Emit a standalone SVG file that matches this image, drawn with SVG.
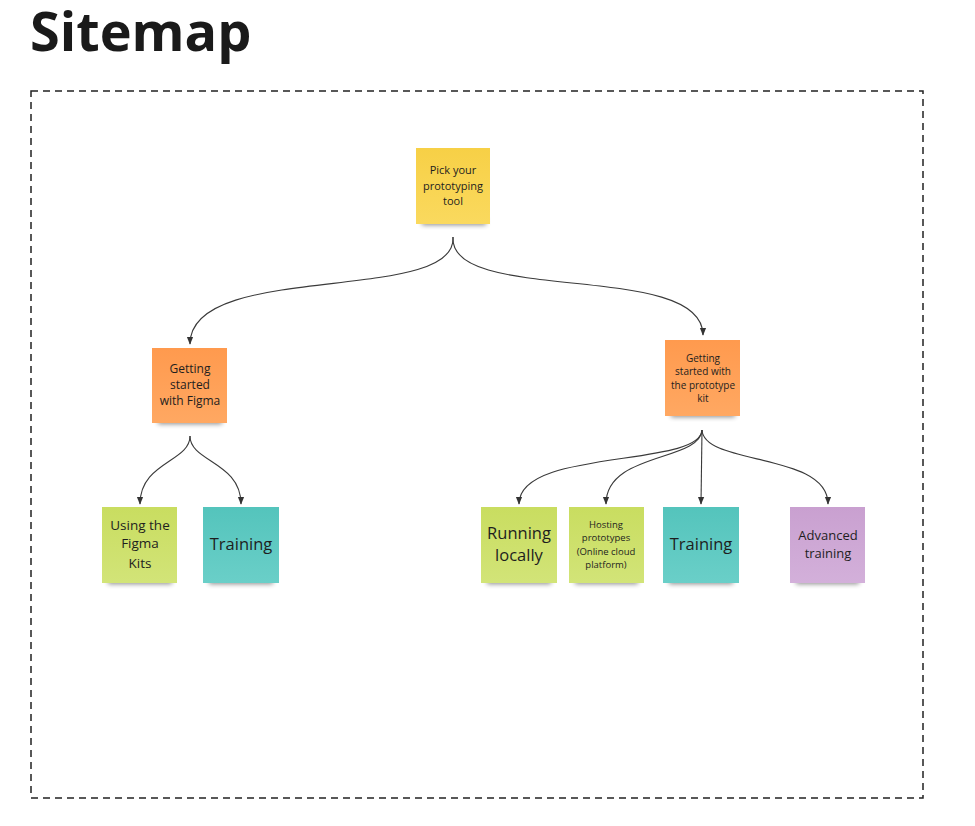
<svg xmlns="http://www.w3.org/2000/svg" width="975" height="826" viewBox="0 0 975 826">
<style>
text{font-family:"Open Sans","Noto Sans","Liberation Sans",sans-serif;fill:#1e1e1e;text-anchor:middle}
.title{font-weight:700;font-size:54px;text-anchor:start;fill:#1a1a1a}
.con{fill:none;stroke:#3a3a3a;stroke-width:1.1;marker-end:url(#ah)}
.sh{fill:#000;opacity:0.45;filter:url(#blur)}
</style>
<defs>
<filter id="blur" x="-20%" y="-100%" width="140%" height="300%"><feGaussianBlur stdDeviation="2.5"/></filter>
<marker id="ah" viewBox="0 0 10 10" refX="9" refY="5" markerWidth="7" markerHeight="7" orient="auto"><path d="M0,1 L10,5 L0,9 z" fill="#333"/></marker>
<linearGradient id="gy" x1="0" y1="0" x2="0" y2="1"><stop offset="0" stop-color="#F7D046"/><stop offset="1" stop-color="#FAD95E"/></linearGradient>
<linearGradient id="go" x1="0" y1="0" x2="0" y2="1"><stop offset="0" stop-color="#FF9A4E"/><stop offset="1" stop-color="#FFA862"/></linearGradient>
<linearGradient id="gg" x1="0" y1="0" x2="0" y2="1"><stop offset="0" stop-color="#C9DD60"/><stop offset="1" stop-color="#D2E478"/></linearGradient>
<linearGradient id="gt" x1="0" y1="0" x2="0" y2="1"><stop offset="0" stop-color="#54C4BC"/><stop offset="1" stop-color="#6ACFC8"/></linearGradient>
<linearGradient id="gp" x1="0" y1="0" x2="0" y2="1"><stop offset="0" stop-color="#C9A0D0"/><stop offset="1" stop-color="#D3B0DA"/></linearGradient>
</defs>
<rect width="975" height="826" fill="#fff"/>
<text class="title" x="30" y="51">Sitemap</text>
<rect x="31" y="91" width="892" height="707" fill="none" stroke="#222" stroke-width="1.5" stroke-dasharray="7 5"/>

<g id="connectors">
<path class="con" d="M453,237 C458,305 190,260 190,344"/>
<path class="con" d="M453,237 C448,305 703,260 703,335"/>
<path class="con" d="M190,436 C190,462 140,462 140,504"/>
<path class="con" d="M190,436 C190,462 241,462 241,504"/>
<path class="con" d="M702,430 C700,468 519,448 519,504"/>
<path class="con" d="M702,430 C700,462 606,452 606,504"/>
<path class="con" d="M702,430 L701,504"/>
<path class="con" d="M702,430 C704,466 828,452 828,504"/>
</g>

<g id="n-pick">
<rect class="sh" x="422" y="218" width="64" height="7"/>
<rect x="416" y="148" width="74" height="76" fill="url(#gy)"/>
<text font-size="11"><tspan x="453" y="174">Pick your</tspan><tspan x="453" y="190">prototyping</tspan><tspan x="453" y="205">tool</tspan></text>
</g>

<g id="n-figma">
<rect class="sh" x="158" y="417" width="64" height="7"/>
<rect x="152" y="348" width="75" height="75" fill="url(#go)"/>
<text font-size="12"><tspan x="190" y="373">Getting</tspan><tspan x="190" y="389">started</tspan><tspan x="190" y="405">with Figma</tspan></text>
</g>

<g id="n-kit">
<rect class="sh" x="671" y="410" width="64" height="7"/>
<rect x="665" y="340" width="75" height="76" fill="url(#go)"/>
<text font-size="10"><tspan x="703" y="361.5">Getting</tspan><tspan x="703" y="375">started with</tspan><tspan x="703" y="388.5">the prototype</tspan><tspan x="703" y="402">kit</tspan></text>
</g>

<g id="n-kits">
<rect class="sh" x="108" y="577" width="64" height="7"/>
<rect x="102" y="507" width="75" height="76" fill="url(#gg)"/>
<text font-size="13.5"><tspan x="140" y="530">Using the</tspan><tspan x="140" y="548">Figma</tspan><tspan x="140" y="568">Kits</tspan></text>
</g>

<g id="n-train1">
<rect class="sh" x="209" y="577" width="64" height="7"/>
<rect x="203" y="507" width="76" height="76" fill="url(#gt)"/>
<text font-size="16.5" x="241" y="550">Training</text>
</g>

<g id="n-run">
<rect class="sh" x="487" y="577" width="64" height="7"/>
<rect x="481" y="507" width="76" height="76" fill="url(#gg)"/>
<text font-size="16.5"><tspan x="519" y="539">Running</tspan><tspan x="519" y="561">locally</tspan></text>
</g>

<g id="n-host">
<rect class="sh" x="575" y="577" width="63" height="7"/>
<rect x="569" y="507" width="75" height="76" fill="url(#gg)"/>
<text font-size="9.5"><tspan x="606" y="527.5">Hosting</tspan><tspan x="606" y="541">prototypes</tspan><tspan x="606" y="554.5">(Online cloud</tspan><tspan x="606" y="567.5">platform)</tspan></text>
</g>

<g id="n-train2">
<rect class="sh" x="669" y="577" width="64" height="7"/>
<rect x="663" y="507" width="76" height="76" fill="url(#gt)"/>
<text font-size="16.5" x="701" y="550">Training</text>
</g>

<g id="n-adv">
<rect class="sh" x="796" y="577" width="63" height="7"/>
<rect x="790" y="507" width="75" height="76" fill="url(#gp)"/>
<text font-size="13"><tspan x="828" y="540">Advanced</tspan><tspan x="828" y="558">training</tspan></text>
</g>
</svg>
